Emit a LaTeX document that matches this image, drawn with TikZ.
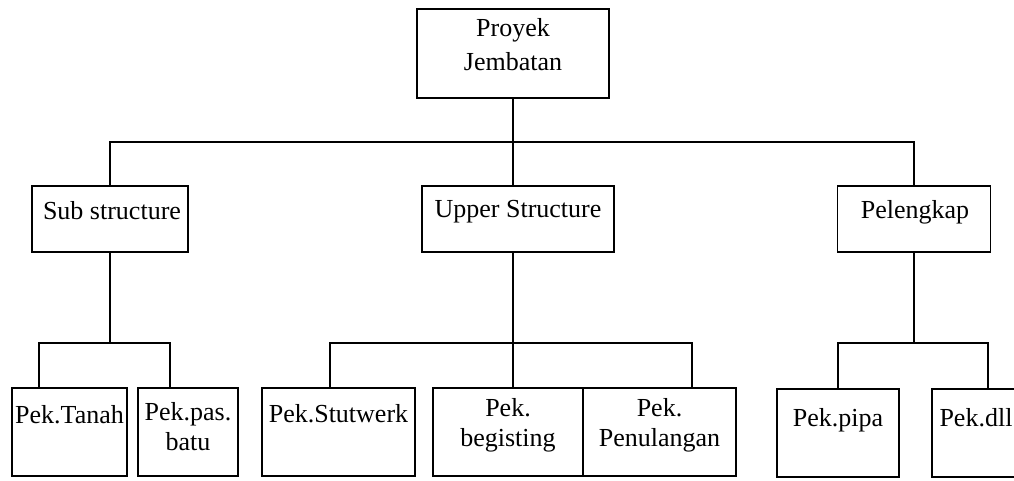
\documentclass[tikz,border=0pt]{standalone}
\usepackage{fontspec}
\setmainfont{Liberation Serif}
\begin{document}
\begin{tikzpicture}[x=1pt,y=-1pt,
  box/.style={draw, rectangle, inner sep=0pt, line width=1.4pt},
  txt/.style={inner sep=0pt, align=center, font=\fontsize{26}{30}\selectfont},
  conn/.style={line width=1.4pt}]
\useasboundingbox (0,0) rectangle (1014,480);
\fill[white] (0,0) rectangle (1014,480);

% level 1
\node[box, minimum width=192pt, minimum height=89pt] (top) at (513,53.5) {};
\node[txt, font=\fontsize{26}{34}\selectfont] (topT) at (513,45) {Proyek\\Jembatan};

% level 2
\node[box, minimum width=156pt, minimum height=66pt] (sub) at (110,219) {};
\node[txt] (subT) at (112,211) {Sub structure};
\node[box, minimum width=192pt, minimum height=66pt] (up) at (518,219) {};
\node[txt] (upT) at (518,212) {Upper Structure};
\node[box, minimum width=153pt, minimum height=66pt] (pel) at (914,219) {};
\node[txt] (pelT) at (915,212) {Pelengkap};

% level 3
\node[box, minimum width=115pt, minimum height=88pt] (tan) at (69.5,432) {};
\node[txt] (tanT) at (69.5,415) {Pek.Tanah};
\node[box, minimum width=100pt, minimum height=88pt] (pas) at (188,432) {};
\node[txt] (pasT) at (188,427) {Pek.pas.\\batu};
\node[box, minimum width=153pt, minimum height=88pt] (stut) at (338.5,432) {};
\node[txt] (stutT) at (338.5,414) {Pek.Stutwerk};
\node[box, minimum width=150pt, minimum height=88pt] (beg) at (508,432) {};
\node[txt] (begT) at (508,425) {Pek.\\begisting};
\node[box, minimum width=153pt, minimum height=88pt] (pen) at (659.5,432) {};
\node[txt] (penT) at (659.5,425) {Pek.\\Penulangan};
\node[box, minimum width=122pt, minimum height=88pt] (pipa) at (838,433) {};
\node[txt] (pipaT) at (838,420) {Pek.pipa};
\node[box, minimum width=88pt, minimum height=88pt] (dll) at (976,433) {};
\node[txt] (dllT) at (976,418) {Pek.dll};

% connectors level 1 -> 2
\coordinate (b1) at (513,142);
\draw[conn] (top.south) -- (b1);
\draw[conn] (sub.north) |- (b1) -| (pel.north);
\draw[conn] (b1) -- (b1 |- up.north);

% sub structure
\coordinate (s1L) at (39,343);
\coordinate (s1R) at (170,343);
\draw[conn] (sub.south) -- (sub.south |- s1L);
\draw[conn] (s1L |- tan.north) -- (s1L) -- (s1R) -- (s1R |- pas.north);

% upper structure
\coordinate (u1) at (513,343);
\coordinate (u1L) at (330,343);
\coordinate (u1R) at (692,343);
\draw[conn] (up.south -| u1) -- (u1 |- beg.north);
\draw[conn] (u1L |- stut.north) -- (u1L) -- (u1R) -- (u1R |- pen.north);

% pelengkap
\coordinate (p1L) at (838,343);
\coordinate (p1R) at (988,343);
\draw[conn] (pel.south) -- (pel.south |- p1L);
\draw[conn] (p1L |- pipa.north) -- (p1L) -- (p1R) -- (p1R |- dll.north);
\end{tikzpicture}
\end{document}
